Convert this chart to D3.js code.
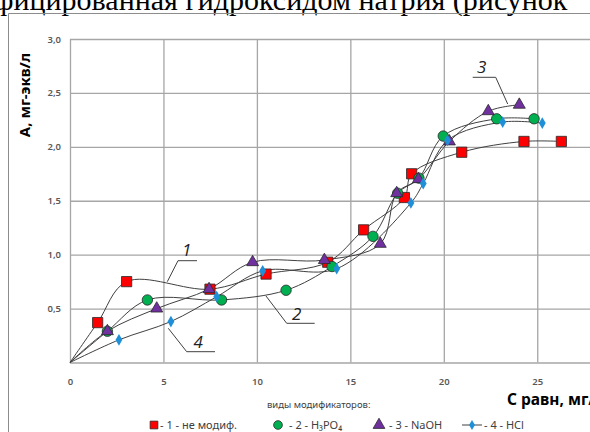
<!DOCTYPE html>
<html>
<head>
<meta charset="utf-8">
<script src="https://cdn.jsdelivr.net/npm/d3@7"></script>
<style>
  html, body { margin: 0; padding: 0; background: #fff; overflow: hidden; }
  svg { display: block; }
</style>
</head>
<body>
<svg id="chart"></svg>
<script>
// values
const xTicks = [0, 5, 10, 15, 20, 25];
const yTicks = [0.5, 1.0, 1.5, 2.0, 2.5, 3.0];

const s1x = [0, 1.48, 3.03, 7.49, 10.49, 13.79, 15.71, 17.89, 18.28, 20.96, 24.29, 26.29];
const s1y = [0, 0.37, 0.75, 0.68, 0.82, 0.93, 1.23, 1.53, 1.75, 1.95, 2.05, 2.05];
const s2x = [0, 2.0, 4.14, 8.11, 11.56, 14.02, 16.21, 17.53, 18.67, 19.97, 22.83, 24.83];
const s2y = [0, 0.29, 0.58, 0.58, 0.67, 0.89, 1.17, 1.57, 1.71, 2.10, 2.26, 2.26];
const s3x = [0, 2.0, 4.64, 7.44, 9.77, 13.61, 16.6, 17.48, 18.64, 20.3, 22.38, 24.04];
const s3y = [0, 0.29, 0.50, 0.68, 0.93, 0.95, 1.10, 1.57, 1.70, 2.05, 2.33, 2.39];
const s4x = [0, 2.62, 5.4, 7.85, 10.31, 14.27, 18.24, 18.9, 20.2, 23.15, 25.27];
const s4y = [0, 0.21, 0.38, 0.61, 0.85, 0.87, 1.48, 1.66, 2.06, 2.23, 2.22];

const seriesNames = ["- 1 -  не модиф.", "- 2 - H₃PO₄", "- 3 - NaOH", "- 4 - HCl"];
const curveLabels = ["1", "2", "3", "4"];

const width = 590, height = 432;
const marginLeft = 70, marginTop = 39;
const plotRight = 630.7, plotBottom = 362.5;

const svg = d3.select("#chart")
    .attr("width", width)
    .attr("height", height)
    .attr("viewBox", [0, 0, width, height]);

const x = d3.scaleLinear().domain([0, 30]).range([marginLeft, plotRight]);
const y = d3.scaleLinear().domain([0, 3]).range([plotBottom, marginTop]);

const fmt = d3.formatLocale({decimal: ",", thousands: " ", grouping: [3], currency: ["", ""]}).format(".1f");

// header text of the page (cut off at the top)
svg.append("text")
    .attr("x", -6)
    .attr("y", 10)
    .attr("font-family", "Liberation Serif")
    .attr("font-size", 30)
    .attr("fill", "#000")
    .text("фицированная гидроксидом натрия (рисунок");

// chart frame
svg.append("path")
    .attr("d", `M8.5,${height}V13.5H${width}`)
    .attr("fill", "none")
    .attr("stroke", "#8c8c8c")
    .attr("stroke-width", 1);

// grid
svg.append("g")
    .attr("transform", `translate(0,${plotBottom})`)
    .call(d3.axisBottom(x).tickValues(xTicks.concat([30])).tickSize(-(plotBottom - marginTop)).tickFormat(""))
    .call(g => g.select(".domain").remove())
    .call(g => g.selectAll("line").attr("stroke", "#a6a6a6").attr("stroke-width", 1.3));
svg.append("g")
    .attr("transform", `translate(${marginLeft},0)`)
    .call(d3.axisLeft(y).tickValues([0].concat(yTicks)).tickSize(-(plotRight - marginLeft)).tickFormat(""))
    .call(g => g.select(".domain").remove())
    .call(g => g.selectAll("line").attr("stroke", "#a6a6a6").attr("stroke-width", 1.3));

// tick labels
svg.append("g")
    .attr("transform", `translate(0,${plotBottom})`)
    .call(d3.axisBottom(x).tickValues(xTicks).tickSize(0).tickPadding(16).tickFormat(d3.format("d")))
    .call(g => g.select(".domain").remove())
    .call(g => g.selectAll("text")
        .attr("font-family", "Noto Sans")
        .attr("font-size", 9.5)
        .attr("font-weight", 600)
        .attr("fill", "#595959"));
svg.append("g")
    .attr("transform", `translate(${marginLeft},0)`)
    .call(d3.axisLeft(y).tickValues(yTicks).tickSize(0).tickPadding(9).tickFormat(fmt))
    .call(g => g.select(".domain").remove())
    .call(g => g.selectAll("text")
        .attr("font-family", "Noto Sans")
        .attr("font-size", 9.5)
        .attr("font-weight", 600)
        .attr("fill", "#595959"));

// axis titles
svg.append("text")
    .attr("transform", `translate(30,95) rotate(-90)`)
    .attr("text-anchor", "middle")
    .attr("font-family", "Noto Sans")
    .attr("font-weight", "bold")
    .attr("font-size", 15)
    .attr("fill", "#000")
    .text("А, мг-экв/л");
svg.append("text")
    .attr("x", 507)
    .attr("y", 405)
    .attr("font-family", "Noto Sans")
    .attr("font-weight", "bold")
    .attr("font-size", 15.5)
    .attr("fill", "#000")
    .text("С равн, мг/л");
svg.append("text")
    .attr("x", 267)
    .attr("y", 408)
    .attr("font-family", "Noto Sans")
    .attr("font-size", 9.5)
    .attr("fill", "#404040")
    .text("виды модификаторов:");

// curves
const line = d3.line()
    .x(d => x(d[0]))
    .y(d => y(d[1]))
    .curve(d3.curveCatmullRom.alpha(0.5));

const series = [
    {xs: s1x, ys: s1y, kind: "square", fill: "#ff0000"},
    {xs: s2x, ys: s2y, kind: "circle", fill: "#00b050"},
    {xs: s3x, ys: s3y, kind: "triangle", fill: "#7030a0"},
    {xs: s4x, ys: s4y, kind: "diamond", fill: "#1f8fd8"}
];
series.forEach(s => { s.pts = s.xs.map((v, i) => [v, s.ys[i]]); });

svg.append("g")
    .selectAll("path")
    .data(series)
    .join("path")
    .attr("fill", "none")
    .attr("stroke", "#404040")
    .attr("stroke-width", 1)
    .attr("d", d => line(d.pts));

const symbolOf = {
    square: d3.symbol(d3.symbolSquare, 105),
    circle: d3.symbol(d3.symbolCircle, 85),
    triangle: d3.symbol(d3.symbolTriangle, 62),
    diamond: d3.symbol(d3.symbolDiamond, 40)
};

series.forEach(s => {
    svg.append("g")
        .selectAll("path")
        .data(s.pts.slice(1))
        .join("path")
        .attr("transform", d => `translate(${x(d[0])},${y(d[1])})`)
        .attr("d", symbolOf[s.kind]())
        .attr("fill", s.fill)
        .attr("stroke", s.kind === "diamond" ? "none" : "#2a2a2a")
        .attr("stroke-width", 0.8);
});

// curve labels with leader lines
const labelPos = [[186.7, 256], [296.7, 320], [481.7, 73], [198.3, 348]];
const leaders = [
    "M167.3,281.7L178,260.7H197",
    "M266,296L286.7,323.3H314.7",
    "M507.7,104L495.7,77.3H472.7",
    "M168.3,328.3L186.7,351.7H215"
];
svg.append("g")
    .selectAll("path")
    .data(leaders)
    .join("path")
    .attr("d", d => d)
    .attr("fill", "none")
    .attr("stroke", "#404040")
    .attr("stroke-width", 1);
svg.append("g")
    .selectAll("text")
    .data(curveLabels)
    .join("text")
    .attr("x", (d, i) => labelPos[i][0])
    .attr("y", (d, i) => labelPos[i][1])
    .attr("text-anchor", "middle")
    .attr("font-family", "Open Sans")
    .attr("font-style", "italic")
    .attr("font-size", 17)
    .attr("fill", "#222")
    .text(d => d);

// legend
const legendX = [154, 278, 379, 472];
const legendTextX = [160, 289, 389, 484];
const legendY = 425;
const lg = svg.append("g");
series.forEach((s, i) => {
    if (s.kind === "diamond") {
        lg.append("line")
            .attr("x1", legendX[i] - 10).attr("x2", legendX[i] + 10)
            .attr("y1", legendY).attr("y2", legendY)
            .attr("stroke", "#404040");
    }
    lg.append("path")
        .attr("transform", `translate(${legendX[i]},${legendY})`)
        .attr("d", d3.symbol(d3[{square: "symbolSquare", circle: "symbolCircle", triangle: "symbolTriangle", diamond: "symbolDiamond"}[s.kind]], s.kind === "diamond" ? 30 : 60)())
        .attr("fill", s.fill)
        .attr("stroke", s.kind === "diamond" ? "none" : "#2a2a2a")
        .attr("stroke-width", 0.8);
    lg.append("text")
        .attr("x", legendTextX[i])
        .attr("y", legendY + 4)
        .attr("font-family", "Noto Sans")
        .attr("font-size", 11)
        .attr("fill", "#404040")
        .text(seriesNames[i]);
});
</script>
</body>
</html>
